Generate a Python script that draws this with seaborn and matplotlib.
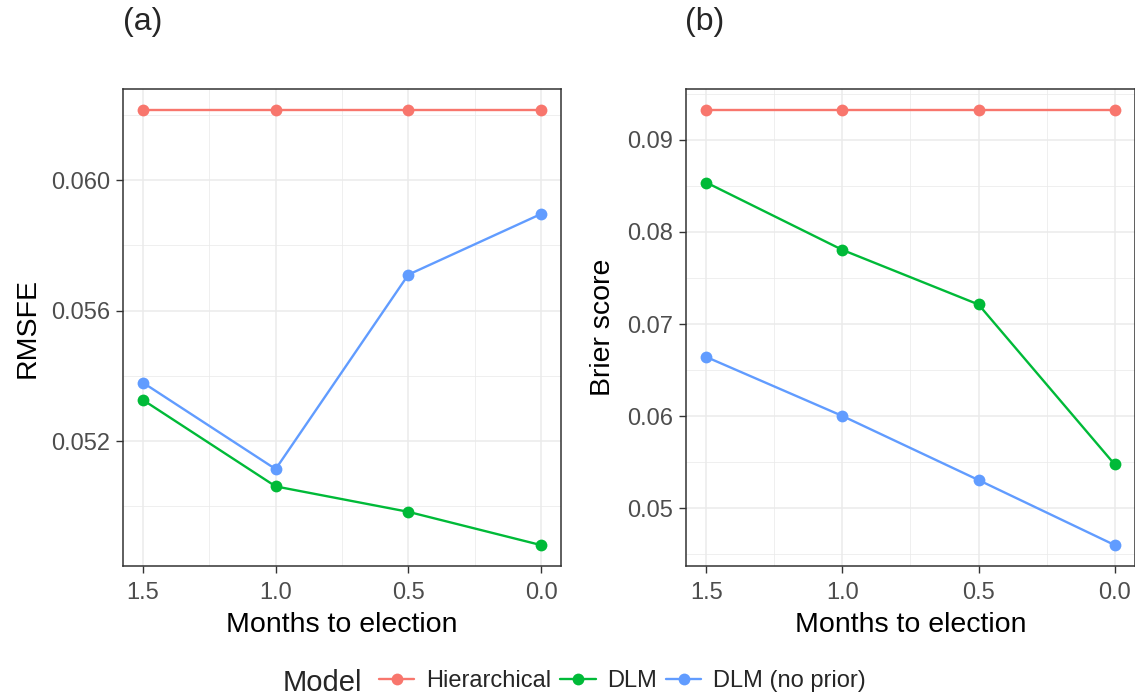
import numpy as np
import pandas as pd
import matplotlib
matplotlib.use("Agg")
import matplotlib.pyplot as plt
from matplotlib.ticker import FixedLocator, FormatStrFormatter
import seaborn as sns

# Forecast horizon (months before election)
months = [1.5, 1.0, 0.5, 0.0]
models = ["Hierarchical", "DLM", "DLM (no prior)"]

# Root mean squared forecast error by model
rmsfe_hier = [0.06215, 0.06215, 0.06215, 0.06215]
rmsfe_dlm = [0.05326, 0.05061, 0.04983, 0.04881]
rmsfe_noprior = [0.05379, 0.05114, 0.05710, 0.05896]

# Brier score by model
brier_hier = [0.09326, 0.09326, 0.09326, 0.09326]
brier_dlm = [0.08537, 0.07805, 0.07212, 0.05475]
brier_noprior = [0.06641, 0.06000, 0.05304, 0.04598]

palette = {"Hierarchical": "#F8766D", "DLM": "#00BA38", "DLM (no prior)": "#619CFF"}


def long_frame(series):
    rows = []
    for name, vals in zip(models, series):
        for m, v in zip(months, vals):
            rows.append({"months": m, "value": v, "Model": name})
    return pd.DataFrame(rows)


rmsfe_df = long_frame([rmsfe_hier, rmsfe_dlm, rmsfe_noprior])
brier_df = long_frame([brier_hier, brier_dlm, brier_noprior])

sns.set_theme(style="white")
plt.rcParams["font.family"] = ["Liberation Sans", "DejaVu Sans"]

W, H = 1135, 698
fig = plt.figure(figsize=(W / 100, H / 100), dpi=100)
fig.patch.set_facecolor("white")


def px_axes(x0, y0, x1, y1):
    return fig.add_axes([x0 / W, 1 - y1 / H, (x1 - x0) / W, (y1 - y0) / H])


def style_axes(ax, ylim, yticks, yminor, yfmt, ylabel):
    ax.set_xlim(1.575, -0.075)
    ax.set_ylim(*ylim)
    ax.xaxis.set_major_locator(FixedLocator(months))
    ax.xaxis.set_minor_locator(FixedLocator([1.25, 0.75, 0.25]))
    ax.xaxis.set_major_formatter(FormatStrFormatter("%.1f"))
    ax.yaxis.set_major_locator(FixedLocator(yticks))
    ax.yaxis.set_minor_locator(FixedLocator(yminor))
    ax.yaxis.set_major_formatter(FormatStrFormatter(yfmt))
    ax.set_facecolor("white")
    ax.grid(True, which="major", color="#EBEBEB", linewidth=1.1, zorder=0)
    ax.grid(True, which="minor", color="#EBEBEB", linewidth=0.55, zorder=0)
    ax.set_axisbelow(True)
    for s in ax.spines.values():
        s.set_visible(True)
        s.set_color("#333333")
        s.set_linewidth(1.1)
    ax.tick_params(axis="both", which="major", direction="out", length=4.7,
                   width=1.0, color="#333333", labelcolor="#4D4D4D",
                   labelsize=17, bottom=True, left=True)
    ax.tick_params(axis="x", which="major", pad=6.5)
    ax.tick_params(axis="y", which="major", pad=4.3)
    ax.tick_params(axis="both", which="minor", length=0, bottom=False, left=False)
    ax.set_xlabel("Months to election", fontsize=20.5, color="black", labelpad=6)
    ax.set_ylabel(ylabel, fontsize=20.5, color="black", labelpad=8)


ax1 = px_axes(123, 89, 561, 566)
sns.lineplot(data=rmsfe_df, x="months", y="value", hue="Model", hue_order=models,
             palette=palette, marker="o", markersize=8.5, markeredgewidth=0,
             linewidth=1.7, ax=ax1, legend=True)
style_axes(ax1, (0.04817, 0.06279), [0.052, 0.056, 0.060],
           [0.050, 0.054, 0.058, 0.062], "%.3f", "RMSFE")

ax2 = px_axes(686, 89, 1135, 566)
sns.lineplot(data=brier_df, x="months", y="value", hue="Model", hue_order=models,
             palette=palette, marker="o", markersize=8.5, markeredgewidth=0,
             linewidth=1.7, ax=ax2, legend=False)
style_axes(ax2, (0.04370, 0.09554), [0.05, 0.06, 0.07, 0.08, 0.09],
           [0.045, 0.055, 0.065, 0.075, 0.085, 0.095], "%.2f", "Brier score")

fig.text(123 / W, 1 - 22 / H, "(a)", fontsize=23, va="center", ha="left")
fig.text(685 / W, 1 - 22 / H, "(b)", fontsize=23, va="center", ha="left")

handles, labels = ax1.get_legend_handles_labels()
ax1.get_legend().remove()
fig.text(283 / W, 1 - 683 / H, "Model", fontsize=21, va="center", ha="left")
fig.legend(handles, labels, loc="center left", bbox_to_anchor=(379 / W, 1 - 681 / H),
           ncol=3, frameon=False, fontsize=17, handlelength=1.5,
           handletextpad=0.5, columnspacing=0.37, borderaxespad=0, borderpad=0)

fig.savefig("out.png", dpi=100, facecolor="white")
